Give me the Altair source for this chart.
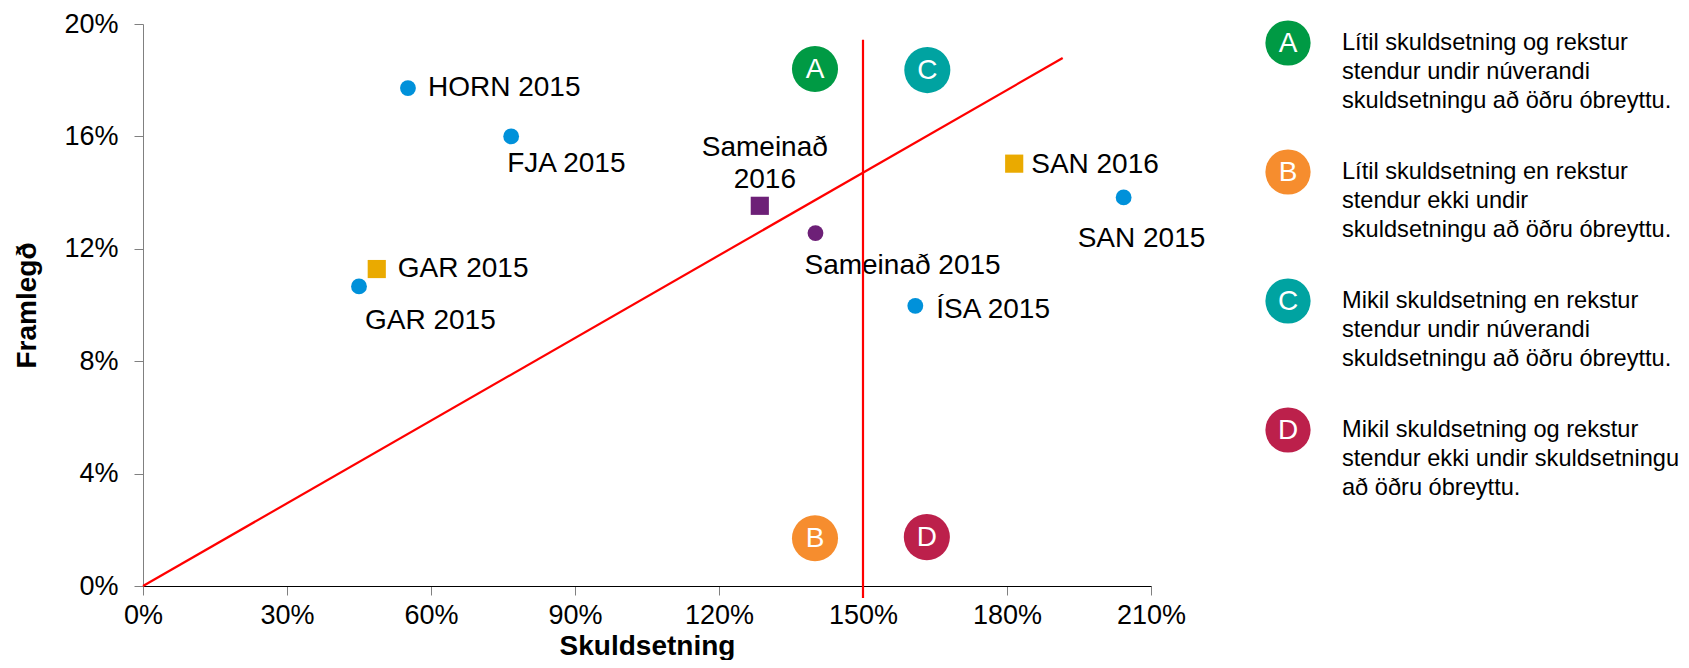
import altair as alt
import pandas as pd

FONT = "Liberation Sans"

# ---- data ----
pt_names = ["HORN 2015", "FJA 2015", "GAR 2015", "GAR 2015", "Sameinað\n2016",
            "Sameinað 2015", "ÍSA 2015", "SAN 2016", "SAN 2015"]
pt_x = [55.2, 76.7, 48.7, 45.0, 128.5, 140.1, 160.9, 181.5, 204.3]
pt_y = [17.72, 16.0, 11.28, 10.66, 13.53, 12.56, 9.97, 15.03, 13.83]
pt_shape = ["circle", "circle", "square", "circle", "square", "circle", "circle", "square", "circle"]
pt_group = ["blue", "blue", "gold", "blue", "purple", "purple", "blue", "gold", "blue"]

quad_letters = ["A", "B", "C", "D"]
quad_x = [140.0, 140.0, 163.4, 163.3]
quad_y = [18.4, 1.7, 18.36, 1.74]

legend_text = [
    "Lítil skuldsetning og rekstur\nstendur undir núverandi\nskuldsetningu að öðru óbreyttu.",
    "Lítil skuldsetning en rekstur\nstendur ekki undir\nskuldsetningu að öðru óbreyttu.",
    "Mikil skuldsetning en rekstur\nstendur undir núverandi\nskuldsetningu að öðru óbreyttu.",
    "Mikil skuldsetning og rekstur\nstendur ekki undir skuldsetningu\nað öðru óbreyttu.",
]

vline_x = [150.0, 150.0]
vline_y = [-0.43, 19.44]
diag_x = [0.0, 191.6]
diag_y = [0.0, 18.79]

x_ticks = [0, 30, 60, 90, 120, 150, 180, 210]
y_ticks = [0, 4, 8, 12, 16, 20]

# ---- styles ----
group_names = ["blue", "gold", "purple"]
group_colors = ["#0091DA", "#EAAA00", "#6D2077"]
quad_colors = ["#009A44", "#F68D2E", "#00A3A1", "#BC204B"]
# label placement per point: (align, dx, dy)
label_style = [
    ("left", 20, 0), ("left", -4, 28), ("left", 21, 0), ("left", 6, 35),
    ("center", 5, -58), ("left", -11, 33), ("left", 21, 4), ("left", 17, 1),
    ("left", -46, 42),
]

pts = pd.DataFrame({"id": range(len(pt_names)), "name": pt_names, "x": pt_x, "y": pt_y,
                    "shape": pt_shape, "group": pt_group})
quads = pd.DataFrame({"letter": quad_letters, "x": quad_x, "y": quad_y})
leg = pd.DataFrame({"letter": quad_letters, "text": legend_text})
vline = pd.DataFrame({"x": [vline_x[0]], "y": [vline_y[0]], "y2": [vline_y[1]]})
diag = pd.DataFrame({"x": diag_x, "y": diag_y})

xscale = alt.Scale(domain=[0, 210], nice=False, zero=True)
yscale = alt.Scale(domain=[0, 20], nice=False, zero=True)

xaxis = alt.Axis(values=x_ticks, labelExpr="datum.value + '%'", title="Skuldsetning",
                 grid=False, tickSize=9, tickColor="#808080", domainColor="#000000",
                 labelFontSize=27, labelPadding=7, labelColor="#000000", labelFlush=False,
                 titleFontSize=28, titleFontWeight="bold", titleColor="#000000",
                 titleBaseline="alphabetic", titleY=68)
yaxis = alt.Axis(values=y_ticks, labelExpr="datum.value + '%'", title="Framlegð",
                 grid=False, tickSize=9, tickColor="#808080", domainColor="#808080",
                 labelFontSize=27, labelPadding=16, labelColor="#000000", labelFlush=False,
                 titleFontSize=28, titleFontWeight="bold", titleColor="#000000",
                 titleAngle=270, titleBaseline="middle", titleAlign="center",
                 titleX=-116, titleY=281)

X = alt.X("x:Q", scale=xscale, axis=xaxis)
Y = alt.Y("y:Q", scale=yscale, axis=yaxis)
Xn = alt.X("x:Q", scale=xscale)
Yn = alt.Y("y:Q", scale=yscale)

base_pts = alt.Chart(pts)

bubbles = alt.Chart(quads).mark_point(filled=True, opacity=1, size=2124, shape="circle").encode(
    x=X, y=Y,
    color=alt.Color("letter:N", scale=alt.Scale(domain=quad_letters, range=quad_colors), legend=None),
)
bubble_txt = alt.Chart(quads).mark_text(color="white", fontSize=28, font=FONT,
                                        align="center", baseline="middle", dy=1).encode(
    x=Xn, y=Yn, text="letter:N")

points = base_pts.mark_point(filled=True, opacity=1).encode(
    x=Xn, y=Yn,
    shape=alt.Shape("shape:N", scale=alt.Scale(domain=["circle", "square"], range=["circle", "square"]), legend=None),
    size=alt.Size("shape:N", scale=alt.Scale(domain=["circle", "square"], range=[250, 330]), legend=None),
    color=alt.Color("group:N", scale=alt.Scale(domain=group_names, range=group_colors), legend=None),
)

label_layers = []
for i, (al, dx, dy) in enumerate(label_style):
    label_layers.append(
        base_pts.transform_filter(alt.datum.id == i).mark_text(
            align=al, baseline="middle", dx=dx, dy=dy, fontSize=28, font=FONT,
            color="#000000", lineBreak="\n", lineHeight=32,
        ).encode(x=Xn, y=Yn, text="name:N")
    )

vrule = alt.Chart(vline).mark_rule(color="#FF0000", strokeWidth=2.2).encode(x=Xn, y=Yn, y2="y2:Q")
dline = alt.Chart(diag).mark_line(color="#FF0000", strokeWidth=2.2).encode(x=Xn, y=Yn)

main = alt.layer(bubbles, bubble_txt, points, *label_layers, vrule, dline).resolve_scale(color="independent")

legY = alt.Y("letter:N", scale=alt.Scale(domain=quad_letters, range=[19, 406], padding=0), axis=None)
leg_circ = alt.Chart(leg).mark_point(filled=True, opacity=1, size=2043, shape="circle").encode(
    x=alt.value(1145), y=legY,
    color=alt.Color("letter:N", scale=alt.Scale(domain=quad_letters, range=quad_colors), legend=None),
)
leg_letter = alt.Chart(leg).mark_text(color="white", fontSize=28, font=FONT, align="center",
                                      baseline="middle", dy=1).encode(
    x=alt.value(1145), y=legY, text="letter:N")
leg_txt = alt.Chart(leg).mark_text(align="left", baseline="middle", fontSize=23.6, font=FONT,
                                   color="#000000", lineBreak="\n", lineHeight=29).encode(
    x=alt.value(1199), y=legY, text="text:N")
legend = alt.layer(leg_circ, leg_letter, leg_txt)

chart = alt.layer(main, legend).resolve_scale(y="independent", color="independent").properties(
    width=1008, height=562,
    autosize=alt.AutoSizeParams(type="none"),
    padding={"left": 135, "top": 16, "right": 530, "bottom": 74},
).configure(font=FONT).configure_view(stroke=None)

chart.save("out.html", embed_options={"renderer": "svg", "actions": False})
